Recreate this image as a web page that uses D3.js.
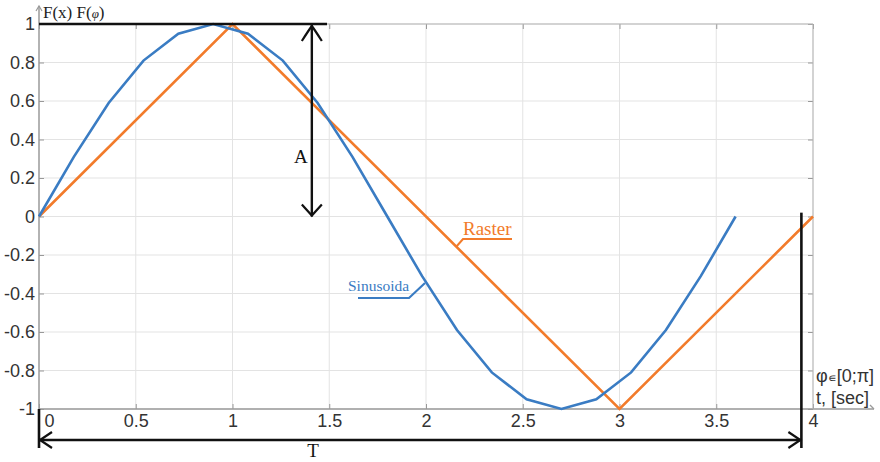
<!DOCTYPE html>
<html>
<head>
<meta charset="utf-8">
<script src="https://cdn.jsdelivr.net/npm/d3@7/dist/d3.min.js"></script>
<style>
  body { margin: 0; background: #fff; }
  svg { display: block; }
</style>
</head>
<body>
<div id="chart"></div>
<script>
// sinusoid vertices
var sinT = [0, 0.18, 0.36, 0.54, 0.72, 0.9, 1.08, 1.26, 1.44, 1.62, 1.8, 1.98, 2.16, 2.34, 2.52, 2.7, 2.88, 3.06, 3.24, 3.42, 3.6];
var sinF = [0, 0.31, 0.59, 0.81, 0.95, 1, 0.95, 0.81, 0.59, 0.31, 0, -0.31, -0.59, -0.81, -0.95, -1, -0.95, -0.81, -0.59, -0.31, 0];
// raster (triangle) vertices
var rasterT = [0, 1, 3, 4];
var rasterF = [0, 1, -1, 0];
// ticks
var xTicks = [0, 0.5, 1, 1.5, 2, 2.5, 3, 3.5, 4];
var yTicks = [-1, -0.8, -0.6, -0.4, -0.2, 0, 0.2, 0.4, 0.6, 0.8, 1];
// annotation positions (data units)
var ampT = 1.41;
var periodEnd = 3.94;

var W = 880, H = 462;
var margin = { top: 24, right: 67, bottom: 53, left: 39 };

var svg = d3.select("#chart").append("svg")
    .attr("width", W)
    .attr("height", H);

var x = d3.scaleLinear().domain([0, 4]).range([margin.left, W - margin.right]);
var y = d3.scaleLinear().domain([-1, 1]).range([H - margin.bottom, margin.top]);

var blue = "#3a7cc3", orange = "#f27b2b";

// grid
svg.append("g").selectAll("line")
    .data(xTicks.slice(1)).enter().append("line")
    .attr("x1", function(d) { return x(d); }).attr("x2", function(d) { return x(d); })
    .attr("y1", y(1)).attr("y2", y(-1))
    .attr("stroke", "#e3e3e3").attr("stroke-width", 1);
svg.append("g").selectAll("line")
    .data(yTicks).enter().append("line")
    .attr("x1", x(0)).attr("x2", x(4))
    .attr("y1", function(d) { return y(d); }).attr("y2", function(d) { return y(d); })
    .attr("stroke", "#e3e3e3").attr("stroke-width", 1);

// axes
var xAxis = svg.append("g")
    .attr("transform", "translate(0," + y(-1) + ")")
    .call(d3.axisBottom(x).tickValues(xTicks).tickSize(-5).tickPadding(5)
        .tickFormat(function(d) { return String(d); }));
var yAxis = svg.append("g")
    .attr("transform", "translate(" + x(0) + ",0)")
    .call(d3.axisLeft(y).tickValues(yTicks).tickSize(-5).tickPadding(4)
        .tickFormat(function(d) { return String(d); }));
svg.append("g")
    .attr("transform", "translate(0," + y(1) + ")")
    .call(d3.axisTop(x).tickValues(xTicks).tickSize(-5).tickFormat(""));
svg.append("g")
    .attr("transform", "translate(" + x(4) + ",0)")
    .call(d3.axisRight(y).tickValues(yTicks).tickSize(-5).tickFormat(""));

svg.selectAll(".domain").remove();
svg.selectAll(".tick line").attr("stroke", "#999");
svg.selectAll(".tick text")
    .attr("font-family", "Liberation Sans, Arial, sans-serif")
    .attr("font-size", "18px")
    .attr("fill", "#333");
xAxis.selectAll(".tick text").filter(function(d) { return d === 0; }).attr("x", 10);

// axis lines with arrows
var axisCol = "#9a9a9a";
svg.append("line").attr("x1", x(0)).attr("x2", x(0)).attr("y1", y(-1)).attr("y2", 6)
    .attr("stroke", axisCol).attr("stroke-width", 1.5);
svg.append("path").attr("d", "M" + (x(0) - 3) + ",11 L" + x(0) + ",6 L" + (x(0) + 3) + ",11")
    .attr("fill", "none").attr("stroke", axisCol).attr("stroke-width", 1.2);
svg.append("line").attr("x1", x(0)).attr("x2", 874).attr("y1", y(-1)).attr("y2", y(-1))
    .attr("stroke", axisCol).attr("stroke-width", 1.5);
svg.append("path").attr("d", "M870," + (y(-1) - 4) + " L874," + y(-1))
    .attr("fill", "none").attr("stroke", axisCol).attr("stroke-width", 1.2);
svg.append("line").attr("x1", x(4)).attr("x2", x(4)).attr("y1", y(1)).attr("y2", y(-1))
    .attr("stroke", "#b5b5b5").attr("stroke-width", 1);
svg.append("line").attr("x1", x(0)).attr("x2", x(4)).attr("y1", y(1)).attr("y2", y(1))
    .attr("stroke", "#b5b5b5").attr("stroke-width", 1);

// series
var line = d3.line()
    .x(function(d) { return x(d[0]); })
    .y(function(d) { return y(d[1]); });

svg.append("path")
    .datum(rasterT.map(function(t, i) { return [t, rasterF[i]]; }))
    .attr("d", line)
    .attr("fill", "none").attr("stroke", orange).attr("stroke-width", 2.6);
svg.append("path")
    .datum(sinT.map(function(t, i) { return [t, sinF[i]]; }))
    .attr("d", line)
    .attr("fill", "none").attr("stroke", blue).attr("stroke-width", 2.6);

// annotations
var ink = "#111";
// top line at y = 1
svg.append("line").attr("x1", x(0)).attr("x2", 327).attr("y1", y(1)).attr("y2", y(1))
    .attr("stroke", ink).attr("stroke-width", 2.6);
// amplitude arrow
var ax = x(ampT);
svg.append("line").attr("x1", ax).attr("x2", ax).attr("y1", y(1) + 1).attr("y2", y(0))
    .attr("stroke", ink).attr("stroke-width", 2.4);
svg.append("path")
    .attr("d", "M" + (ax - 10) + "," + (y(1) + 17) + " Q" + (ax - 3) + "," + (y(1) + 6) + " " + ax + "," + (y(1) + 2)
        + " Q" + (ax + 3) + "," + (y(1) + 6) + " " + (ax + 10) + "," + (y(1) + 17))
    .attr("fill", "none").attr("stroke", ink).attr("stroke-width", 2.2);
svg.append("path")
    .attr("d", "M" + (ax - 10) + "," + (y(0) - 12) + " L" + ax + "," + (y(0) - 1) + " L" + (ax + 10) + "," + (y(0) - 12))
    .attr("fill", "none").attr("stroke", ink).attr("stroke-width", 2.2);
svg.append("text").attr("x", ax - 11).attr("y", 163)
    .attr("text-anchor", "middle")
    .attr("font-family", "Liberation Serif, Times New Roman, serif")
    .attr("font-size", "19px").attr("fill", ink).text("A");

// period arrow
var px = x(periodEnd), py = 440;
svg.append("line").attr("x1", x(0)).attr("x2", x(0)).attr("y1", y(-1)).attr("y2", 448)
    .attr("stroke", ink).attr("stroke-width", 2.6);
svg.append("line").attr("x1", px).attr("x2", px).attr("y1", y(0.02)).attr("y2", 448)
    .attr("stroke", ink).attr("stroke-width", 2.6);
svg.append("line").attr("x1", x(0)).attr("x2", px).attr("y1", py).attr("y2", py)
    .attr("stroke", ink).attr("stroke-width", 2.4);
svg.append("path")
    .attr("d", "M" + (x(0) + 13) + "," + (py - 8) + " L" + (x(0) + 1) + "," + py + " L" + (x(0) + 13) + "," + (py + 8))
    .attr("fill", "none").attr("stroke", ink).attr("stroke-width", 2.2);
svg.append("path")
    .attr("d", "M" + (px - 13) + "," + (py - 8) + " L" + (px - 1) + "," + py + " L" + (px - 13) + "," + (py + 8))
    .attr("fill", "none").attr("stroke", ink).attr("stroke-width", 2.2);
svg.append("text").attr("x", 313).attr("y", 457)
    .attr("text-anchor", "middle")
    .attr("font-family", "Liberation Serif, Times New Roman, serif")
    .attr("font-size", "19px").attr("fill", ink).text("T");

// series labels with leaders
svg.append("text").attr("x", 463).attr("y", 235)
    .attr("font-family", "Liberation Serif, Times New Roman, serif")
    .attr("font-size", "19px").attr("fill", orange).text("Raster");
svg.append("path").attr("d", "M512,239 L463,239 L456,247")
    .attr("fill", "none").attr("stroke", orange).attr("stroke-width", 2);

svg.append("text").attr("x", 348).attr("y", 291)
    .attr("font-family", "Liberation Serif, Times New Roman, serif")
    .attr("font-size", "15.5px").attr("fill", blue).text("Sinusoida");
svg.append("path").attr("d", "M358,298 L409,298 L425,283")
    .attr("fill", "none").attr("stroke", blue).attr("stroke-width", 2.2);

// axis titles
svg.append("text").attr("x", 43).attr("y", 18)
    .attr("font-family", "Liberation Serif, Times New Roman, serif")
    .attr("font-size", "17px").attr("fill", "#222")
    .text("F(x) F(")
    .append("tspan").attr("font-style", "italic").attr("font-size", "13px").text("φ")
    .select(function() { return this.parentNode; })
    .append("tspan").text(")");

var rt = svg.append("g")
    .attr("font-family", "Liberation Sans, Arial, sans-serif")
    .attr("font-size", "18px").attr("fill", "#333");
var t1 = rt.append("text").attr("x", 816).attr("y", 382);
t1.append("tspan").text("φ");
t1.append("tspan").attr("font-size", "12px").text("∊");
t1.append("tspan").text("[0;π]");
rt.append("text").attr("x", 816).attr("y", 404).text("t, [sec]");
</script>
</body>
</html>
